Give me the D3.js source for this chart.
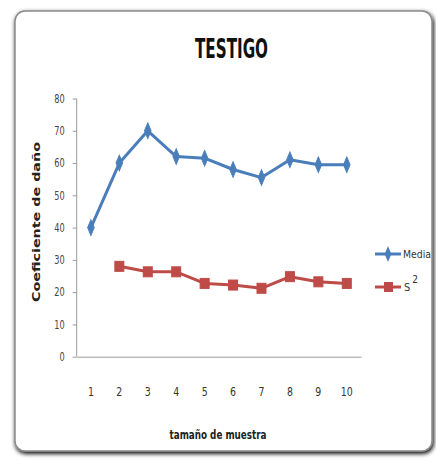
<!DOCTYPE html>
<html><head><meta charset="utf-8">
<script src="https://cdn.jsdelivr.net/npm/d3@7"></script>
<style>body{margin:0;background:#fff}svg{display:block}</style>
</head><body>
<script>
const categories = [1,2,3,4,5,6,7,8,9,10];
const media = [40,60,70,62,61.5,58,55.5,61,59.5,59.5];
const s2 = [null,28,26.3,26.3,22.7,22.2,21.2,24.8,23.2,22.7];
const yTicks = [0,10,20,30,40,50,60,70,80];
const title = "TESTIGO";
const xTitle = "tamaño de muestra";
const yTitle = "Coeficiente de daño";

const W=436,H=468;
const svg=d3.select("body").append("svg").attr("width",W).attr("height",H);
const defs=svg.append("defs");
const f=defs.append("filter").attr("id","sh").attr("x","-5%").attr("y","-5%").attr("width","110%").attr("height","110%");
f.append("feGaussianBlur").attr("in","SourceAlpha").attr("stdDeviation",2);
f.append("feOffset").attr("dx",1).attr("dy",2).attr("result","b");
const m=f.append("feMerge");m.append("feMergeNode").attr("in","b");m.append("feMergeNode").attr("in","SourceGraphic");

svg.append("rect").attr("x",15).attr("y",11).attr("width",417).attr("height",440).attr("rx",10)
  .attr("fill","#fff").attr("stroke","#8a8a8a").attr("stroke-width",1.5).attr("filter","url(#sh)");

const x=d3.scaleBand().domain(categories).range([76.7,361]);
const y=d3.scaleLinear().domain([0,80]).range([356.7,98.5]);
const font="'Liberation Sans Narrow','Arial Narrow','DejaVu Sans Condensed',sans-serif";

svg.append("text").attr("x",231.5).attr("y",58).attr("text-anchor","middle")
  .attr("font-family",font).attr("font-weight","bold").attr("font-size",27)
  .attr("textLength",73).attr("lengthAdjust","spacingAndGlyphs").attr("fill","#111").text(title);

// y axis
const ya=svg.append("g").attr("transform","translate(76.7,0)")
  .call(d3.axisLeft(y).tickValues(yTicks).tickSize(4).tickPadding(8));
ya.select(".domain").attr("stroke","#9a9a9a").attr("d","M0,"+y(80)+"V"+y(0));
ya.selectAll(".tick line").attr("stroke","#9a9a9a");
ya.selectAll(".tick text").attr("font-family",font).attr("font-size",12).attr("fill","#444")
  .attr("textLength",d=>String(d).length*5.2).attr("lengthAdjust","spacingAndGlyphs");

// x axis
const xa=svg.append("g").attr("transform","translate(0,356.7)")
  .call(d3.axisBottom(x).tickSize(0).tickPadding(30));
xa.select(".domain").attr("stroke","#9a9a9a");
xa.selectAll(".tick text").attr("font-family",font).attr("font-size",13).attr("fill","#333")
  .attr("textLength",d=>String(d).length*6).attr("lengthAdjust","spacingAndGlyphs");

svg.append("text").attr("x",218).attr("y",439).attr("text-anchor","middle")
  .attr("font-family",font).attr("font-size",12).attr("font-weight","bold")
  .attr("textLength",97).attr("lengthAdjust","spacingAndGlyphs").attr("fill","#222").text(xTitle);

svg.append("text").attr("transform","translate(40,222) rotate(-90)").attr("text-anchor","middle")
  .attr("font-family","'DejaVu Sans',sans-serif").attr("font-size",10).attr("font-weight","bold")
  .attr("textLength",160).attr("lengthAdjust","spacingAndGlyphs").attr("fill","#222").text(yTitle);

const cx=d=>x(d)+x.bandwidth()/2;
const blue="#4A7EBB", red="#BE4B48";

const line=d3.line().defined(d=>d[1]!=null).x(d=>cx(d[0])).y(d=>y(d[1]));
svg.append("path").datum(categories.map((c,i)=>[c,media[i]])).attr("d",line)
  .attr("fill","none").attr("stroke",blue).attr("stroke-width",3).attr("stroke-linejoin","round");
svg.append("path").datum(categories.map((c,i)=>[c,s2[i]])).attr("d",line)
  .attr("fill","none").attr("stroke",red).attr("stroke-width",3).attr("stroke-linejoin","round");

const diamond=d3.symbol().type(d3.symbolDiamond).size(60);
svg.append("g").selectAll("path").data(categories.map((c,i)=>[c,media[i]])).join("path")
  .attr("d",diamond).attr("transform",d=>`translate(${cx(d[0])},${y(d[1])}) scale(0.8,1.1)`)
  .attr("fill",blue).attr("stroke",blue);
svg.append("g").selectAll("rect").data(categories.map((c,i)=>[c,s2[i]]).filter(d=>d[1]!=null)).join("rect")
  .attr("x",d=>cx(d[0])-4.5).attr("y",d=>y(d[1])-5).attr("width",9).attr("height",10)
  .attr("fill",red).attr("stroke",red);

// legend
const lg=svg.append("g");
lg.append("line").attr("x1",375).attr("x2",401).attr("y1",254).attr("y2",254).attr("stroke",blue).attr("stroke-width",3);
lg.append("path").attr("d",diamond).attr("transform","translate(388,254) scale(0.8,1.1)").attr("fill",blue);
lg.append("text").attr("x",403).attr("y",258).attr("font-family",font).attr("font-size",11).attr("fill","#333")
  .attr("textLength",28).attr("lengthAdjust","spacingAndGlyphs").text("Media");
lg.append("line").attr("x1",375).attr("x2",401).attr("y1",287).attr("y2",287).attr("stroke",red).attr("stroke-width",3);
lg.append("rect").attr("x",384).attr("y",282).attr("width",9).attr("height",10).attr("fill",red);
const st=lg.append("text").attr("x",404).attr("y",291).attr("font-family",font).attr("font-size",11).attr("fill","#333");
st.append("tspan").text("S");
st.append("tspan").attr("dy",-8).attr("dx",2).attr("font-size",10).text("2");
</script>
</body></html>
